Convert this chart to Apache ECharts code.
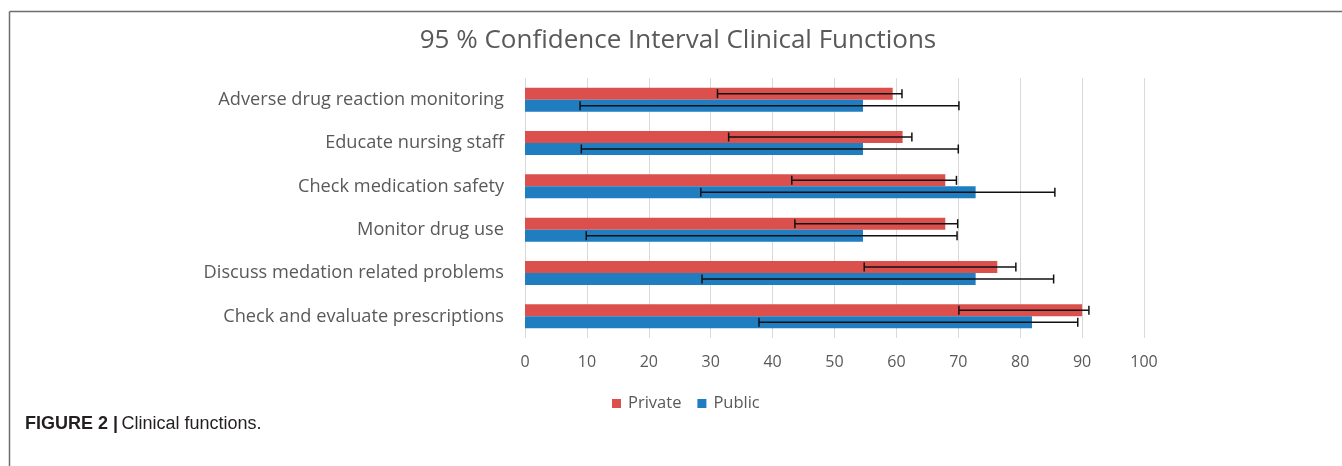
<!DOCTYPE html>
<html>
<head>
<meta charset="utf-8">
<script src="https://cdn.jsdelivr.net/npm/echarts@6/dist/echarts.min.js"></script>
<style>
html,body{margin:0;padding:0;background:#fff;}
#chart{width:1342px;height:466px;}
</style>
</head>
<body>
<div id="chart"></div>
<script>
const categories = [
  'Adverse drug reaction monitoring',
  'Educate nursing staff',
  'Check medication safety',
  'Monitor drug use',
  'Discuss medation related problems',
  'Check and evaluate prescriptions'
];
const privateValues = [59.4, 61.0, 67.9, 67.9, 76.3, 90.0];
const privateLower  = [31.1, 32.9, 43.1, 43.6, 54.8, 70.1];
const privateUpper  = [60.9, 62.5, 69.7, 69.9, 79.3, 91.1];
const publicValues  = [54.6, 54.6, 72.8, 54.6, 72.8, 81.9];
const publicLower   = [8.9, 9.1, 28.4, 9.9, 28.6, 37.8];
const publicUpper   = [70.1, 70.0, 85.6, 69.8, 85.4, 89.3];
const xTicks = [0, 10, 20, 30, 40, 50, 60, 70, 80, 90, 100];

const RED = '#DB504D';
const BLUE = '#1F7DC0';
const TXT = '#595959';
const BAR_W = 12;

function errSeries(name, lower, upper, sign) {
  return {
    type: 'custom',
    name: name + ' CI',
    z: 10,
    silent: true,
    encode: { x: [1, 2], y: 0 },
    data: categories.map((c, i) => [i, lower[i], upper[i]]),
    renderItem: function (params, api) {
      const i = api.value(0);
      const lo = api.coord([api.value(1), i]);
      const hi = api.coord([api.value(2), i]);
      const y = lo[1] + sign * BAR_W / 2;
      const cap = 4.5;
      const st = { stroke: '#111', lineWidth: 1.5 };
      return {
        type: 'group',
        children: [
          { type: 'line', shape: { x1: lo[0], y1: y, x2: hi[0], y2: y }, style: st },
          { type: 'line', shape: { x1: lo[0], y1: y - cap, x2: lo[0], y2: y + cap }, style: st },
          { type: 'line', shape: { x1: hi[0], y1: y - cap, x2: hi[0], y2: y + cap }, style: st }
        ]
      };
    }
  };
}

const chart = echarts.init(document.getElementById('chart'));
chart.setOption({
  animation: false,
  title: {
    text: '95 % Confidence Interval Clinical Functions',
    left: 673, textAlign: 'center', top: 23,
    textStyle: { fontFamily: 'Open Sans', fontSize: 26, fontWeight: 'normal', color: TXT }
  },
  legend: {
    data: ['Private', 'Public'],
    left: 612, top: 395, padding: 0,
    itemWidth: 9, itemHeight: 9, itemGap: 16,
    icon: 'rect',
    textStyle: { fontFamily: 'Open Sans', fontSize: 16.5, color: TXT, padding: [0, 0, 0, 2] }
  },
  grid: { left: 525, right: 198, top: 78, bottom: 128, containLabel: false },
  xAxis: {
    type: 'value', min: 0, max: 100, interval: 10,
    axisLine: { show: false }, axisTick: { show: false },
    splitLine: { show: true, lineStyle: { color: '#D9D9D9', width: 1 } },
    axisLabel: { margin: 16, fontFamily: 'Open Sans', fontSize: 16, color: TXT,
      formatter: v => xTicks.indexOf(v) >= 0 ? String(v) : '' }
  },
  yAxis: {
    type: 'category', data: categories, inverse: true,
    axisLine: { show: false }, axisTick: { show: false },
    axisLabel: { margin: 21, fontFamily: 'Open Sans', fontSize: 18.2, color: TXT }
  },
  series: [
    { name: 'Private', type: 'bar', data: privateValues, barWidth: BAR_W, barGap: '0%',
      itemStyle: { color: RED } },
    { name: 'Public', type: 'bar', data: publicValues, barWidth: BAR_W, barGap: '0%',
      itemStyle: { color: BLUE } },
    errSeries('Private', privateLower, privateUpper, -1),
    errSeries('Public', publicLower, publicUpper, 1)
  ],
  graphic: [
    { type: 'line', shape: { x1: 9.5, y1: 11.5, x2: 1342, y2: 11.5 }, style: { stroke: '#6e6e6e', lineWidth: 1.5 } },
    { type: 'line', shape: { x1: 9.5, y1: 11.5, x2: 9.5, y2: 466 }, style: { stroke: '#6e6e6e', lineWidth: 1.5 } },
    { type: 'text', left: 25, top: 415,
      style: {
        text: '{b|FIGURE 2 |} {r|Clinical functions.}',
        rich: {
          b: { fontFamily: 'Liberation Sans', fontWeight: 'bold', fontSize: 18, fill: '#231f20' },
          r: { fontFamily: 'Liberation Sans', fontSize: 18, fill: '#231f20' }
        }
      }
    }
  ]
});
</script>
</body>
</html>
